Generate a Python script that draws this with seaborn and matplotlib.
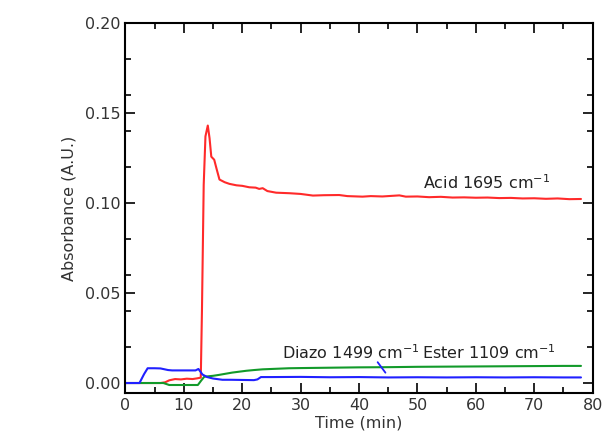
import numpy as np
import pandas as pd
import matplotlib
matplotlib.use("Agg")
import matplotlib.pyplot as plt
from matplotlib.ticker import MultipleLocator
import seaborn as sns

# ---- data ----
t_acid = [0, 2, 4, 6, 6.8, 7.5, 8.5, 9.5, 10.5, 11.5, 12.3, 12.9, 13.1, 13.4, 13.7, 14.1,
          14.4, 14.7, 15.2, 15.6, 16.1, 17, 17.8, 19, 20, 21.2, 22.3, 22.9, 23.5,
          24.3, 25.8, 28.1, 30, 32.1, 34, 36.6, 38, 40.6, 42, 44, 46.9, 48, 50, 52,
          54, 56, 58, 60, 62, 64, 66, 68, 70, 72, 74, 76, 78]
acid = [0, 0, 0, 0, 0.0004, 0.0015, 0.0022, 0.002, 0.0024, 0.0022, 0.0026, 0.003,
        0.04, 0.11, 0.137, 0.143, 0.136, 0.1257, 0.124, 0.119, 0.113, 0.1115, 0.1106,
        0.1098, 0.1095, 0.1087, 0.1085, 0.1078, 0.1082, 0.1066, 0.1057, 0.1054, 0.105,
        0.1041, 0.1043, 0.1044, 0.1038, 0.1035, 0.1038, 0.1036, 0.1042, 0.1035,
        0.1036, 0.1032, 0.1034, 0.103, 0.1031, 0.1029, 0.103, 0.1027, 0.1028,
        0.1025, 0.1026, 0.1023, 0.1025, 0.1021, 0.1022]

t_diazo = [0, 2.4, 3.2, 3.8, 5, 6, 7.3, 8, 10, 12, 12.5, 13.2, 14, 15, 16.6, 18, 20,
           22, 22.6, 23.2, 25, 30, 35, 40, 45, 50, 55, 60, 65, 70, 75, 78]
diazo = [0, 0, 0.005, 0.0082, 0.0082, 0.0081, 0.0072, 0.007, 0.007, 0.007, 0.0078,
         0.0047, 0.0033, 0.0025, 0.0018, 0.0018, 0.0017, 0.0016, 0.002, 0.0033,
         0.0033, 0.0034, 0.0032, 0.0033, 0.0031, 0.0032, 0.0031, 0.0032, 0.0031,
         0.0032, 0.0031, 0.0031]

t_ester = [0, 6.5, 7.5, 9, 11, 12.4, 13, 13.5, 15, 16, 18.3, 20.7, 22, 23.5, 25, 28,
           30, 35, 40, 45, 50, 55, 60, 65, 70, 75, 78]
ester = [0, 0, -0.0011, -0.0011, -0.0011, -0.0011, 0.0015, 0.0035, 0.004, 0.0045,
         0.0058, 0.0068, 0.0072, 0.0076, 0.0078, 0.0082, 0.0083, 0.0085, 0.0087,
         0.0088, 0.009, 0.0091, 0.0092, 0.0093, 0.0094, 0.0095, 0.0095]

x_ticks = [0, 10, 20, 30, 40, 50, 60, 70, 80]
y_ticks = [0.00, 0.05, 0.10, 0.15, 0.20]

sns.set_style("ticks")
plt.rcParams['font.family'] = ['DejaVu Sans']

fig = plt.figure(figsize=(6.06, 4.40), dpi=100)
ax = fig.add_axes([0.207, 0.107, 0.771, 0.841])

sns.lineplot(x=t_acid, y=acid, ax=ax, color="#ff2a2a", lw=1.5)
sns.lineplot(x=t_ester, y=ester, ax=ax, color="#129a2a", lw=1.5)
sns.lineplot(x=t_diazo, y=diazo, ax=ax, color="#2020ff", lw=1.5)

ax.set_xlim(0, 80)
ax.set_ylim(-0.0055, 0.20)
ax.set_xticks(x_ticks)
ax.set_yticks(y_ticks)
ax.set_yticklabels([f"{v:.2f}" for v in y_ticks])
ax.xaxis.set_minor_locator(MultipleLocator(5))
ax.yaxis.set_minor_locator(MultipleLocator(0.02))
ax.tick_params(which="both", direction="in", top=True, right=True, labelsize=11.5,
               color="black", width=1.2, labelcolor="#333333")
ax.tick_params(which="major", length=7)
ax.tick_params(which="minor", length=4)
for s in ax.spines.values():
    s.set_linewidth(1.5)
    s.set_color("black")

ax.set_xlabel("Time (min)", fontsize=11.5, labelpad=2, color="#333333")
ax.set_ylabel("Absorbance (A.U.)", fontsize=11.5, labelpad=6, color="#333333")

tc = "#222222"
ax.text(51.0, 0.111, r"Acid 1695 cm$^{\mathregular{-1}}$", fontsize=11.5, va="center", color=tc)
ax.text(26.8, 0.0167, r"Diazo 1499 cm$^{\mathregular{-1}}$", fontsize=11.5, va="center", color=tc)
ax.text(50.8, 0.0167, r"Ester 1109 cm$^{\mathregular{-1}}$", fontsize=11.5, va="center", color=tc)
ax.annotate("", xy=(44.8, 0.0045), xytext=(42.9, 0.0128),
            arrowprops=dict(arrowstyle="-", color="#2020ff", lw=1.3))

fig.savefig("out.png", dpi=100)
